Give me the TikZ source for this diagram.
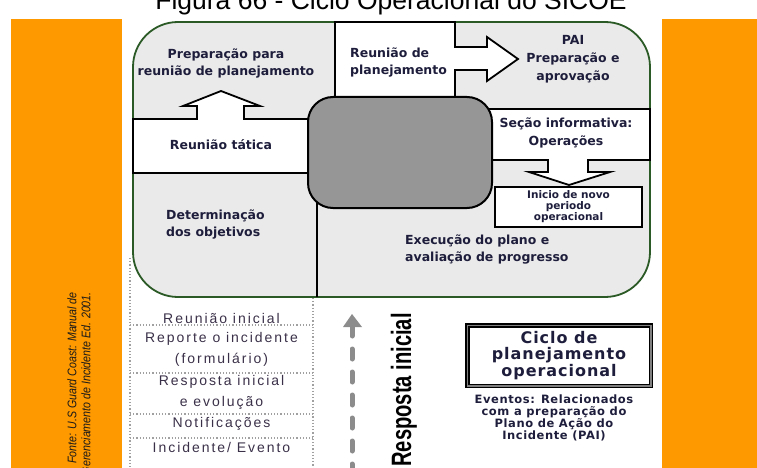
\documentclass[tikz,border=0pt]{standalone}
\usepackage{fontspec}
\usepackage{graphicx}
\setmainfont{Liberation Sans}
\newfontfamily\lbl{DejaVu Sans}
\newfontfamily\lblwide[LetterSpace=6]{DejaVu Sans}
\newfontfamily\lblev[LetterSpace=5]{DejaVu Sans}
\newfontfamily\listfont[LetterSpace=14]{Liberation Sans}
\usetikzlibrary{arrows.meta}

\definecolor{orangebar}{HTML}{FF9900}
\definecolor{panel}{HTML}{EAEAEA}
\definecolor{hub}{HTML}{969696}
\definecolor{rim}{HTML}{2B5A26}
\definecolor{ink}{HTML}{1E1E3C}
\definecolor{listink}{HTML}{3A3048}
\definecolor{dotgray}{HTML}{A0A0A0}
\definecolor{arrowgray}{HTML}{8C8C8C}

\begin{document}
\begin{tikzpicture}[x=1pt,y=-1pt,line join=miter,
  tag/.style={font=\lbl\bfseries\fontsize{12.5}{17}\selectfont, text=ink, inner sep=0pt, align=center},
  tagwide/.style={tag, font=\lbl\bfseries\fontsize{12.5}{18}\selectfont},
  listtxt/.style={font=\listfont\fontsize{14}{21}\selectfont, text=listink, inner sep=0pt, align=center},
  panelline/.style={draw=black, line width=1.8pt},
  dotline/.style={draw=dotgray, line width=1.2pt, dotted},
  srctxt/.style={rotate=90, anchor=east, inner sep=0pt, text=black!90, font=\itshape\fontsize{12.5}{12.5}\selectfont}]

\useasboundingbox (0,0) rectangle (757,468);

% heading (its upper half runs off the page)
\node[font=\fontsize{26.5}{26.5}\selectfont, anchor=base, inner sep=0pt] (title) at (391,9.5)
  {Figura 66 - Ciclo Operacional do SICOE};

% side bars
\fill[orangebar] (11,19) rectangle (122,468);
\fill[orangebar] (662,19) rectangle (757,468);

% source note on the left bar
\node[srctxt] (src1) at (72,292) {\scalebox{0.85}[1]{Fonte: U.S Guard Coast: Manual de}};
\node[srctxt] (src2) at (86,292) {\scalebox{0.85}[1]{Gerenciamento de Incidente Ed. 2001.}};

% cycle frame
\fill[panel, rounded corners=45pt] (133,22) rectangle (650,297);
\draw[rim, line width=1.8pt, rounded corners=45pt] (133,22) rectangle (650,297);

% white step boxes with their arrows
\draw[panelline, fill=white] (335,22) -- (455,22) -- (455,47) -- (487,47) -- (487,37) -- (518,59)
  -- (487,81) -- (487,70) -- (455,70) -- (455,105) -- (335,105) -- cycle;
\draw[panelline, fill=white] (133,119) -- (197,119) -- (197,106) -- (183,106) -- (221,91) -- (260,106)
  -- (244,106) -- (244,119) -- (315,119) -- (315,173) -- (133,173) -- cycle;
\draw[panelline, fill=white] (485,109) -- (650,109) -- (650,160) -- (588,160) -- (588,172) -- (610,172)
  -- (569,185) -- (529,172) -- (548,172) -- (548,160) -- (485,160) -- cycle;

% divider between the lower quadrants
\draw[panelline] (317,200) -- (317,297);

% central hub
\draw[black, line width=2pt, fill=hub, rounded corners=25pt] (308,97) rectangle (492,208);

% new period box
\node[draw=black, line width=1.5pt, fill=white, minimum width=147pt, minimum height=40pt,
  inner sep=0pt, align=center, text=ink, font=\lbl\bfseries\fontsize{10.5}{11}\selectfont]
  (inicio) at (568.5,207) {Inicio de novo\\periodo\\operacional};

% step labels
\node[tag] (prep) at (226,63.5) {Preparação para\\reunião de planejamento};
\node[tag, align=left, anchor=west] (reun) at (350,62) {Reunião de\\planejamento};
\node[tagwide] (pai) at (573,59) {PAI\\Preparação e\\aprovação};
\node[tagwide] (secao) at (566,133) {Seção informativa:\\Operações};
\node[tag] (tatica) at (221,145) {Reunião tática};
\node[tag, align=left, anchor=west] (determ) at (166,224) {Determinação\\dos objetivos};
\node[tag, align=left, anchor=west] (exec) at (405,249) {Execução do plano e\\avaliação de progresso};

% initial response column
\coordinate (colA1) at (130,258); \coordinate (colA2) at (130,468);
\coordinate (colB1) at (313,298); \coordinate (colB2) at (313,468);
\draw[dotline] (colA1) -- (colA2);
\draw[dotline] (colB1) -- (colB2);
\foreach \yy/\nm in {325/r1,373/r2,414/r3,438/r4}{
  \coordinate (\nm a) at (130,\yy); \coordinate (\nm b) at (313,\yy);
  \draw[dotline] (\nm a) -- (\nm b);
}
\node[listtxt] (l1) at (221.5,318) {Reunião inicial};
\node[listtxt] (l2) at (221.5,349.5) {Reporte o incidente\\(formulário)};
\node[listtxt] (l3) at (221.5,392.5) {Resposta inicial\\e evolução};
\node[listtxt] (l4) at (221.5,424) {Notificações};
\node[listtxt] (l5) at (221.5,447) {Incidente/ Evento};

% upward dashed arrow
\coordinate (rtip) at (352,314);
\coordinate (rneck) at (352,326);
\coordinate (rtail) at (352,472);
\draw[arrowgray, line width=5pt, line cap=round, dash pattern=on 10pt off 13pt] (rneck) -- (rtail);
\fill[arrowgray] (rtip) -- (362,327) -- (343,327) -- cycle;
\node[rotate=90, inner sep=0pt, font=\bfseries\fontsize{28}{28}\selectfont] (resp) at (404,390)
  {\scalebox{0.72}[1]{Resposta inicial}};

% legend box
\node[draw=black, line width=1.5pt, double=gray, double distance=1.5pt, fill=white,
  minimum width=183.5pt, minimum height=60.5pt, inner sep=0pt, align=center, text=ink,
  font=\lblwide\bfseries\fontsize{16}{16.5}\selectfont] (ciclo) at (559,355.5)
  {Ciclo de\\planejamento\\operacional};
\node[align=center, inner sep=0pt, text=ink, font=\lblev\bfseries\fontsize{11.5}{12}\selectfont]
  (eventos) at (554,418) {Eventos: Relacionados\\com a preparação do\\Plano de Ação do\\Incidente (PAI)};

\end{tikzpicture}
\end{document}
